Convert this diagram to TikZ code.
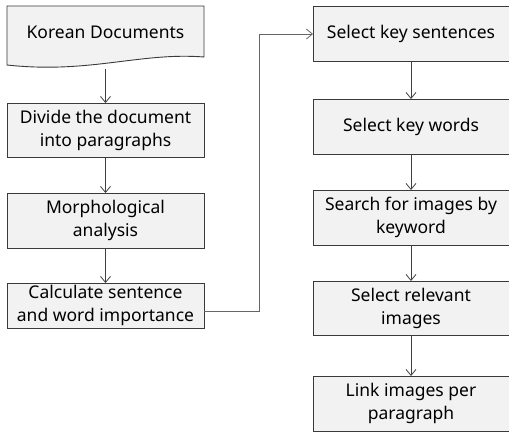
\documentclass[tikz,border=0pt]{standalone}
\usepackage{fontspec}
\setmainfont{Noto Sans}
\usetikzlibrary{arrows.meta}
\definecolor{boxfill}{HTML}{F2F2F2}
\definecolor{boxline}{HTML}{3A3A3A}
\definecolor{arrline}{HTML}{404040}
\begin{document}
\begin{tikzpicture}[x=1pt,y=-1pt,
  box/.style={draw=boxline,fill=boxfill,line width=0.9pt,minimum width=197pt,inner sep=0pt,outer sep=0pt,align=center,font=\fontsize{17.5}{23}\selectfont},
  conn/.style={draw=arrline,line width=0.8pt,-{Straight Barb[length=6pt,width=10pt]}}]
\useasboundingbox (0,0) rectangle (509,432);
% document shape
\draw[draw=boxline,fill=boxfill,line width=0.9pt] (7,6) -- (204,6) -- (204,57) .. controls (140,52) and (90,74) .. (7,65) -- cycle;
\node[font=\fontsize{17.5}{23}\selectfont] (doc) at (105.5,32) {Korean Documents};
\coordinate (docb) at (105.5,69);
\node[box,minimum height=54pt] (div) at (105.5,130) {Divide the document\\into paragraphs};
\node[box,minimum height=55pt] (mor) at (105.5,220.5) {Morphological\\analysis};
\node[box,minimum height=45pt] (calc) at (105.5,305.5) {Calculate sentence\\and word importance};
\node[box,minimum height=55pt,minimum width=196pt] (sks) at (411,33.5) {Select key sentences};
\node[box,minimum height=55pt,minimum width=196pt] (skw) at (411,126.5) {Select key words};
\node[box,minimum height=55pt,minimum width=196pt] (sfi) at (411,217.5) {Search for images by\\keyword};
\node[box,minimum height=54pt,minimum width=196pt] (sri) at (411,308) {Select relevant\\images};
\node[box,minimum height=55pt,minimum width=196pt] (lip) at (411,403.5) {Link images per\\paragraph};
\coordinate (c1) at (259,311);
\coordinate (c2) at (259,34);
\draw[conn] (docb) -- (div);
\draw[conn] (div) -- (mor);
\draw[conn] (mor) -- (calc);
\draw[conn,draw=gray!80!black] (calc.east |- c1) -- (c1) -- (c2) -- (sks.west |- c2);
\draw[conn] (sks) -- (skw);
\draw[conn] (skw) -- (sfi);
\draw[conn] (sfi) -- (sri);
\draw[conn] (sri) -- (lip);
\end{tikzpicture}
\end{document}
